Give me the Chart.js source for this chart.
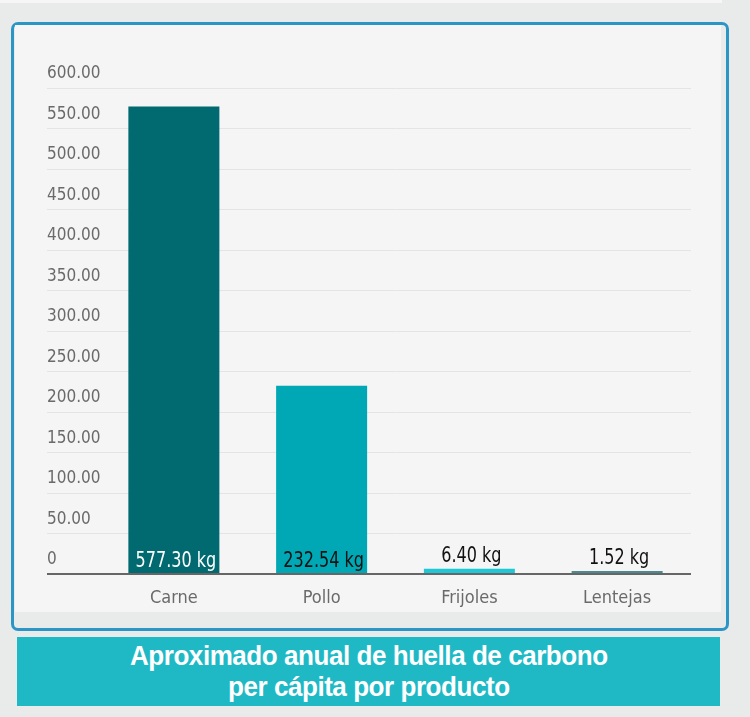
<html>
<head>
<script src="https://cdn.jsdelivr.net/npm/chart.js@4.4.0/dist/chart.umd.min.js"></script>
<style>
  body {
    margin: 0;
    width: 750px;
    height: 717px;
    background: #e9eaea;
    position: relative;
    overflow: hidden;
    font-family: 'DejaVu Sans Condensed', sans-serif;
  }
  #topStrip {
    position: absolute; left: 0; top: 0; width: 722px; height: 3px;
    background: #f6f6f6;
  }
  #panel {
    position: absolute; left: 11px; top: 22px; width: 712px; height: 603px;
    border: 3px solid #2b96c6; border-radius: 7px;
  }
  #chartBox {
    position: absolute; left: 15px; top: 25px; width: 706px; height: 587px;
    background: #f5f5f5;
  }
  #banner {
    position: absolute; left: 17px; top: 637px; width: 703px; height: 69px;
    background: #1fb9c5;
    color: #fff;
    text-align: center;
    font-family: 'Liberation Sans', Arial, sans-serif;
    font-weight: bold;
    font-size: 28px;
    line-height: 31px;
    padding-top: 3px;
    box-sizing: border-box;
  }
  #banner span {
    display: inline-block;
    transform: scaleX(0.93);
    letter-spacing: -0.5px;
  }
</style>
</head>
<body>
  <div id="topStrip"></div>
  <div id="panel"></div>
  <div id="chartBox"><canvas id="carbonChart" width="706" height="587"></canvas></div>
  <div id="banner"><span>Aproximado anual de huella de carbono<br>per cápita por producto</span></div>

<script>
  // data
  var productos = ["Carne", "Pollo", "Frijoles", "Lentejas"];
  var huellaKg = [577.30, 232.54, 6.40, 1.52];
  var coloresBarra = ["#006a70", "#00a7b4", "#1fc6d6", "#4b8b8f"];
  var coloresEtiqueta = ["#ffffff", "#111111", "#111111", "#111111"];

  var fontFamily = "'DejaVu Sans Condensed', sans-serif";

  // writes "577.30 kg" etc. on each bar (narrowed a bit to look like the original font)
  var kgLabels = {
    id: "kgLabels",
    afterDatasetsDraw: function(chart) {
      var ctx = chart.ctx;
      var meta = chart.getDatasetMeta(0);
      var base = chart.scales.y.getPixelForValue(0);
      meta.data.forEach(function(bar, i) {
        var txt = huellaKg[i].toFixed(2) + " kg";
        var y = (base - bar.y > 30) ? base - 7 : bar.y - 7;
        ctx.save();
        ctx.translate(bar.x + 2, y);
        ctx.scale(0.85, 1);
        ctx.font = "21px " + fontFamily;
        ctx.textAlign = "center";
        ctx.textBaseline = "alphabetic";
        ctx.fillStyle = coloresEtiqueta[i];
        ctx.fillText(txt, 0, 0);
        ctx.restore();
      });
    }
  };

  var chart = new Chart(document.getElementById("carbonChart"), {
    type: "bar",
    data: {
      labels: productos,
      datasets: [{
        data: huellaKg,
        backgroundColor: coloresBarra,
        borderWidth: 0,
        minBarLength: 3,
        barPercentage: 0.616,
        categoryPercentage: 1
      }]
    },
    plugins: [kgLabels],
    options: {
      responsive: false,
      animation: false,
      layout: { padding: { left: 32, right: 30, top: 63, bottom: 0 } },
      plugins: {
        legend: { display: false },
        tooltip: { enabled: false }
      },
      scales: {
        x: {
          afterFit: function(s) { s.height = 38; },
          grid: { display: false },
          border: { display: false },
          ticks: {
            padding: 6,
            color: "#6a6a6a",
            font: { family: fontFamily, size: 18 }
          }
        },
        y: {
          min: 0,
          max: 600,
          afterFit: function(s) { s.width = 53; },
          border: { display: false },
          grid: {
            drawTicks: true,
            tickLength: 53,
            color: function(c) { return c.tick && c.tick.value === 0 ? "#666666" : "#e4e4e4"; },
            tickColor: function(c) { return c.tick && c.tick.value === 0 ? "#666666" : "#e4e4e4"; },
            lineWidth: function(c) { return c.tick && c.tick.value === 0 ? 2 : 1; }
          },
          ticks: {
            stepSize: 50,
            crossAlign: "far",
            padding: 0,
            labelOffset: -14,
            color: "#6a6a6a",
            font: { family: fontFamily, size: 17 },
            callback: function(v) { return v === 0 ? "0" : v.toFixed(2); }
          }
        }
      }
    }
  });
</script>
</body>
</html>
